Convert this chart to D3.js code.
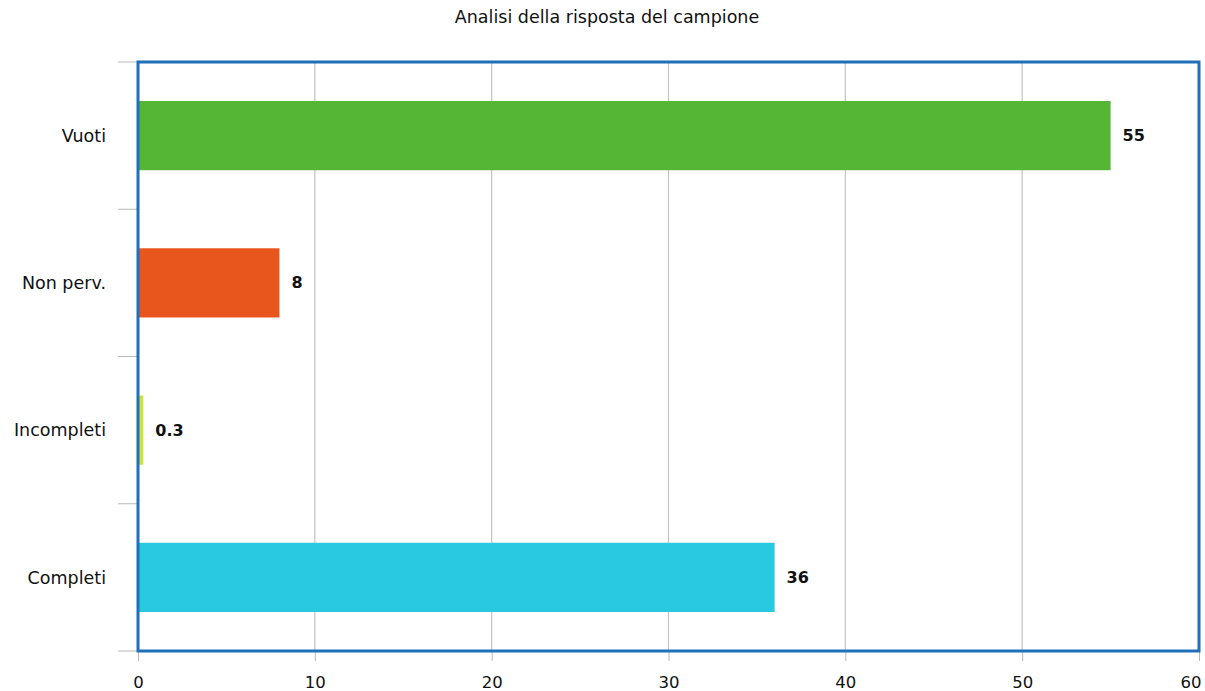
<!DOCTYPE html>
<html>
<head>
<meta charset="utf-8">
<script src="https://cdn.jsdelivr.net/npm/d3@7"></script>
<style>
  body { margin: 0; background: #fff; }
  svg text { font-family: "DejaVu Sans", sans-serif; fill: #111; }
</style>
</head>
<body>
<svg id="chart"></svg>
<script>
// Data
const categories = ['Vuoti', 'Non perv.', 'Incompleti', 'Completi'];
const values = [55, 8, 0.3, 36];
const valueLabels = ['55', '8', '0.3', '36'];
const barColors = ['#55b535', '#e9561d', '#cde23c', '#29c9e1'];
const xTicks = [0, 10, 20, 30, 40, 50, 60];

const width = 1205, height = 691;
const margin = {top: 62, right: 6, bottom: 40, left: 138};
const innerW = width - margin.left - margin.right;
const innerH = height - margin.top - margin.bottom;

const svg = d3.select('#chart')
    .attr('width', width)
    .attr('height', height);

svg.append('text')
    .attr('x', 607)
    .attr('y', 23)
    .attr('text-anchor', 'middle')
    .style('font-size', '17.5px')
    .text('Analisi della risposta del campione');

const chart = svg.append('g')
    .attr('transform', `translate(${margin.left},${margin.top})`);

const xScale = d3.scaleLinear().domain([0, 60]).range([0, innerW]);
const yScale = d3.scaleBand()
    .domain(categories)
    .range([0, innerH])
    .paddingInner(0.53)
    .paddingOuter(0.265);

// vertical gridlines
chart.selectAll('.grid')
    .data(xTicks.slice(1, -1))
    .join('line')
    .attr('x1', d => xScale(d)).attr('x2', d => xScale(d))
    .attr('y1', 0).attr('y2', innerH)
    .attr('stroke', '#c4c4c4')
    .attr('stroke-width', 1.2);

// x axis
const xAxis = d3.axisBottom(xScale).tickValues(xTicks).tickSize(10).tickPadding(15);
const xAxisG = chart.append('g')
    .attr('transform', `translate(0,${innerH})`)
    .call(xAxis);
xAxisG.select('.domain').remove();
xAxisG.selectAll('line').attr('stroke', '#b8b8b8');
xAxisG.selectAll('text')
    .style('font-size', '16.5px')
    .attr('fill', '#111')
    .attr('text-anchor', d => d === 60 ? 'end' : 'middle')
    .attr('dx', d => d === 60 ? '2' : '0');

// y axis ticks on band boundaries
const step = yScale.step();
const yBounds = d3.range(categories.length + 1).map(i => i * step);
chart.selectAll('.ytick')
    .data(yBounds)
    .join('line')
    .attr('x1', -20).attr('x2', 0)
    .attr('y1', d => d).attr('y2', d => d)
    .attr('stroke', '#b8b8b8');

chart.selectAll('.ylabel')
    .data(categories)
    .join('text')
    .attr('x', -32)
    .attr('y', d => yScale(d) + yScale.bandwidth() / 2)
    .attr('dy', '0.35em')
    .attr('text-anchor', 'end')
    .style('font-size', '17.5px')
    .text(d => d);

// bars
chart.selectAll('.bar')
    .data(values)
    .join('rect')
    .attr('x', xScale(0))
    .attr('y', (d, i) => yScale(categories[i]))
    .attr('width', d => xScale(d) - xScale(0))
    .attr('height', yScale.bandwidth())
    .attr('fill', (d, i) => barColors[i]);

// value labels
chart.selectAll('.vlabel')
    .data(values)
    .join('text')
    .attr('x', d => xScale(d) + 12)
    .attr('y', (d, i) => yScale(categories[i]) + yScale.bandwidth() / 2)
    .attr('dy', '0.35em')
    .style('font-size', '16px')
    .style('font-weight', 'bold')
    .text((d, i) => valueLabels[i]);

// frame
chart.append('rect')
    .attr('x', 0).attr('y', 0)
    .attr('width', innerW).attr('height', innerH)
    .attr('fill', 'none')
    .attr('stroke', '#1f6fb9')
    .attr('stroke-width', 3);
</script>
</body>
</html>
